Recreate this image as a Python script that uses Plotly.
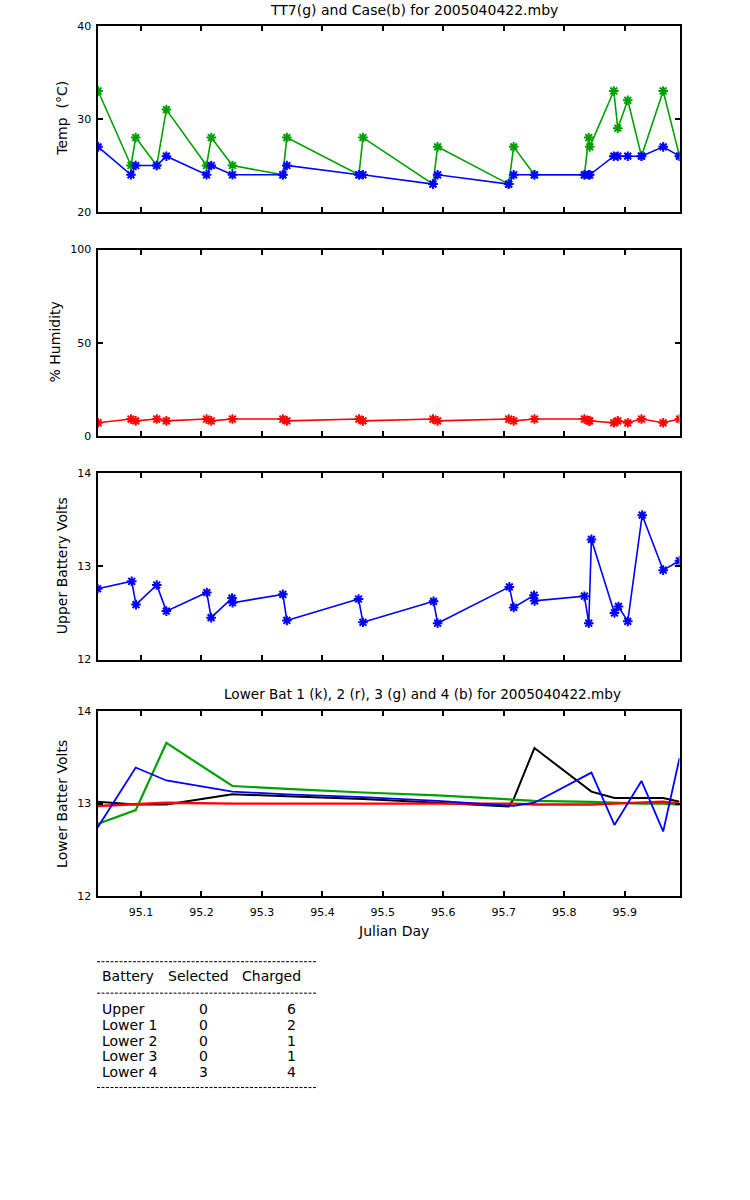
import plotly.graph_objects as go

W, H = 750, 1200

# ---------------- data ----------------
temp_day = [95.0290, 95.0834, 95.0912, 95.1260, 95.1419, 95.2084, 95.2162, 95.2512,
            95.3346, 95.3412, 95.4604, 95.4671, 95.5829, 95.5906, 95.7081, 95.7164,
            95.7507, 95.8334, 95.8406, 95.8422, 95.8820, 95.8886, 95.9051, 95.9278,
            95.9637, 95.9907]
tt7_temp = [33, 25, 28, 25, 31, 25, 28, 25, 24, 28, 24, 28, 23, 27, 23, 27,
            24, 24, 28, 27, 33, 29, 32, 26, 33, 26]
case_temp = [27, 24, 25, 25, 26, 24, 25, 24, 24, 25, 24, 24, 23, 24, 23, 24,
             24, 24, 24, 24, 26, 26, 26, 26, 27, 26]
humidity = [7, 9, 8, 9, 8, 9, 8, 9, 9, 8, 9, 8, 9, 8, 9, 8,
            9, 9, 8, 8, 7, 8, 7, 9, 7, 9]

upper_day = [95.0282, 95.0846, 95.0917, 95.1260, 95.1419, 95.2088, 95.2159, 95.2505,
             95.2515, 95.3346, 95.3412, 95.4598, 95.4671, 95.5839, 95.5906, 95.7093,
             95.7164, 95.7500, 95.7510, 95.8334, 95.8406, 95.8450, 95.8831, 95.8897,
             95.9051, 95.9290, 95.9637, 95.9907]
upper_volts = [12.76, 12.84, 12.59, 12.80, 12.52, 12.72, 12.45, 12.66, 12.61, 12.70,
               12.42, 12.65, 12.40, 12.625, 12.39, 12.78, 12.56, 12.69, 12.63, 12.68,
               12.39, 13.29, 12.50, 12.57, 12.41, 13.55, 12.96, 13.06]

lower_day = [95.0280, 95.0912, 95.1419, 95.2512, 95.3412, 95.4671, 95.5906, 95.7081,
             95.7164, 95.7507, 95.8450, 95.8831, 95.9278, 95.9637, 95.9907]
lower_bat1 = [13.02, 12.99, 12.99, 13.10, 13.08, 13.05, 13.01, 12.97, 13.05, 13.60,
              13.13, 13.06, 13.06, 13.06, 13.02]
lower_bat2 = [12.975, 12.99, 13.01, 13.00, 13.00, 13.00, 13.00, 13.00, 13.00, 12.99,
              12.99, 13.00, 13.01, 13.02, 13.00]
lower_bat3 = [12.78, 12.93, 13.655, 13.19, 13.16, 13.12, 13.09, 13.05, 13.045, 13.03,
              13.02, 13.01, 13.00, 13.00, 12.99]
lower_bat4 = [12.74, 13.39, 13.25, 13.13, 13.10, 13.07, 13.03, 12.98, 12.975, 13.01,
              13.335, 12.77, 13.245, 12.70, 13.49]

x_ticks = [95.1, 95.2, 95.3, 95.4, 95.5, 95.6, 95.7, 95.8, 95.9]
x_tick_labels = ["95.1", "95.2", "95.3", "95.4", "95.5", "95.6", "95.7", "95.8", "95.9"]
x_range = [95.0280, 95.9907]

table_header = ["Battery", "Selected", "Charged"]
table_battery = ["Upper", "Lower 1", "Lower 2", "Lower 3", "Lower 4"]
table_selected = [0, 0, 0, 0, 3]
table_charged = [6, 2, 1, 1, 4]

title_top = "TT7(g) and Case(b) for 2005040422.mby"
title_lower = "Lower Bat 1 (k), 2 (r), 3 (g) and 4 (b) for 2005040422.mby"

GREEN = "#00a000"
BLUE = "#0000ff"
RED = "#ff0000"
BLACK = "#000000"
FONT = "DejaVu Sans, Liberation Sans, Arial, sans-serif"

# ---------------- layout helpers ----------------
def px(x):
    return x / W


def py(y):
    # screen pixel row -> paper fraction (small vertical calibration)
    return 1 - ((y - 5.2) / 0.9903) / H


LEFT, RIGHT = 97.5, 679.5
panels = [(25, 211.5), (249, 435.5), (473, 659.5), (711, 896.5)]

fig = go.Figure()

mk = dict(symbol="asterisk-open", size=8)


def add(x, y, color, n, markers=True, width=1.6):
    kw = dict(x=x, y=y, xaxis="x" + ("" if n == 1 else str(n)),
              yaxis="y" + ("" if n == 1 else str(n)),
              line=dict(color=color, width=width), showlegend=False)
    if markers:
        kw["mode"] = "lines+markers"
        kw["marker"] = dict(mk, color=color, line=dict(color=color, width=2))
    else:
        kw["mode"] = "lines"
    fig.add_trace(go.Scatter(**kw))


add(temp_day, tt7_temp, GREEN, 1)
add(temp_day, case_temp, BLUE, 1)
add(temp_day, humidity, RED, 2)
add(upper_day, upper_volts, BLUE, 3)
add(lower_day, lower_bat1, BLACK, 4, markers=False, width=2)
add(lower_day, lower_bat3, GREEN, 4, markers=False, width=2.2)
add(lower_day, lower_bat2, RED, 4, markers=False, width=2.4)
add(lower_day, lower_bat4, BLUE, 4, markers=False, width=1.8)

y_ranges = [[20, 40], [0, 100], [12, 14], [12, 14]]
y_ticks = [[20, 30, 40], [0, 50, 100], [12, 13, 14], [12, 13, 14]]

axis_common = dict(showline=True, linecolor="black", linewidth=2, mirror="ticks",
                   ticks="inside", ticklen=5, tickwidth=2, tickcolor="black",
                   showgrid=False, zeroline=False,
                   tickfont=dict(family=FONT, size=11, color="black"))

layout = dict(width=W, height=H, margin=dict(l=0, r=0, t=0, b=0),
              paper_bgcolor="white", plot_bgcolor="white",
              font=dict(family=FONT, size=14, color="black"))

for i, (top, bot) in enumerate(panels):
    n = i + 1
    xa = "xaxis" if n == 1 else "xaxis%d" % n
    ya = "yaxis" if n == 1 else "yaxis%d" % n
    xd = dict(axis_common, domain=[px(LEFT), px(RIGHT)], range=x_range,
              tickvals=x_ticks, ticktext=x_tick_labels,
              showticklabels=(n == 4), ticklabelstandoff=5,
              anchor="y" if n == 1 else "y%d" % n)
    yd = dict(axis_common, domain=[py(bot), py(top)], range=y_ranges[i],
              tickvals=y_ticks[i], ticklabelstandoff=2,
              anchor="x" if n == 1 else "x%d" % n)
    layout[xa] = xd
    layout[ya] = yd

fig.update_layout(**layout)

ann = []


def text(x, y, s, anchor="center", size=14, angle=0):
    ann.append(dict(x=px(x), y=py(y), xref="paper", yref="paper", text=s,
                    showarrow=False, xanchor=anchor, yanchor="middle",
                    textangle=angle, font=dict(family=FONT, size=size, color="black")))


text(414, 9, title_top, size=14)
text(422, 694, title_lower, size=13.6)
text(393, 931, "Julian Day")
text(62, 118, "Temp  (°C)", angle=-90)
text(55, 342, "% Humidity", angle=-90)
text(62, 566, "Upper Battery Volts", angle=-90)
text(62, 804, "Lower Batter Volts", angle=-90)

# table
text(100, 976, table_header[0], anchor="left")
text(165.5, 976, table_header[1], anchor="left")
text(239.5, 976, table_header[2], anchor="left")
row_y = [1009, 1025, 1041, 1056.5, 1072]
for yy, b, s, c in zip(row_y, table_battery, table_selected, table_charged):
    text(100, yy, b, anchor="left")
    text(203, yy, str(s))
    text(291.5, yy, str(c))

fig.update_layout(annotations=ann)

for yy in [962, 993.5, 1088]:
    fig.add_shape(type="line", xref="paper", yref="paper",
                  x0=px(97), x1=px(317), y0=py(yy), y1=py(yy),
                  line=dict(color="black", width=1, dash="3px,1.5px"))

post = (
    "document.documentElement.style.margin='0';"
    "document.documentElement.style.padding='0';"
    "document.documentElement.style.overflow='hidden';"
    "document.body.style.margin='0';"
    "document.body.style.padding='0';"
    "document.body.style.overflow='hidden';"
    "document.body.style.height='1200px';"
    "var gd=document.getElementById('{plot_id}');"
    "gd.style.position='absolute';gd.style.left='0px';gd.style.top='0px';"
)

fig.write_html("out.html",
               config={"displayModeBar": False, "staticPlot": True},
               post_script=post)
